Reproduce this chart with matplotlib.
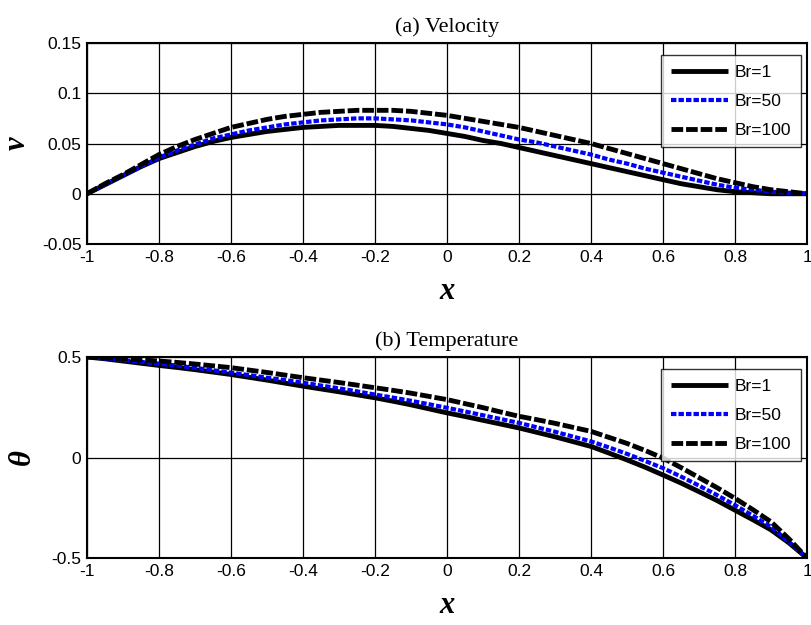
import matplotlib
matplotlib.use("Agg")
import matplotlib.pyplot as plt
from matplotlib.ticker import FixedLocator

x = [-1.0, -0.95, -0.9, -0.85, -0.8, -0.75, -0.7, -0.65, -0.6, -0.55, -0.5,
     -0.45, -0.4, -0.35, -0.3, -0.25, -0.2, -0.15, -0.1, -0.05, 0.0,
     0.05, 0.1, 0.15, 0.2, 0.25, 0.3, 0.35, 0.4, 0.45, 0.5,
     0.55, 0.6, 0.65, 0.7, 0.75, 0.8, 0.85, 0.9, 0.95, 1.0]

v_br1 = [0, 0.009, 0.018, 0.027, 0.035, 0.041, 0.047, 0.052, 0.056, 0.059, 0.062,
         0.064, 0.066, 0.067, 0.068, 0.068, 0.068, 0.067, 0.065, 0.063, 0.060,
         0.057, 0.053, 0.050, 0.046, 0.042, 0.038, 0.034, 0.030, 0.026, 0.022,
         0.018, 0.014, 0.010, 0.007, 0.004, 0.002, 0.001, 0.0, 0.0, 0.0]
v_br50 = [0, 0.009, 0.018, 0.027, 0.036, 0.043, 0.049, 0.055, 0.059, 0.063, 0.066,
          0.069, 0.071, 0.073, 0.074, 0.075, 0.075, 0.074, 0.073, 0.071, 0.069,
          0.066, 0.062, 0.058, 0.054, 0.051, 0.047, 0.043, 0.039, 0.034, 0.030,
          0.025, 0.021, 0.017, 0.013, 0.009, 0.006, 0.004, 0.002, 0.001, 0.0]
v_br100 = [0, 0.010, 0.019, 0.029, 0.039, 0.047, 0.054, 0.060, 0.066, 0.070, 0.074,
           0.077, 0.079, 0.081, 0.082, 0.083, 0.083, 0.083, 0.082, 0.080, 0.078,
           0.075, 0.072, 0.069, 0.066, 0.062, 0.058, 0.054, 0.050, 0.045, 0.040,
           0.035, 0.030, 0.025, 0.020, 0.015, 0.011, 0.007, 0.004, 0.002, 0.0]

t_br1 = [0.5, 0.491, 0.48, 0.469, 0.458, 0.448, 0.437, 0.425, 0.413, 0.399, 0.385,
         0.370, 0.355, 0.341, 0.327, 0.312, 0.297, 0.280, 0.262, 0.242, 0.222,
         0.204, 0.185, 0.166, 0.147, 0.125, 0.103, 0.079, 0.055, 0.022, -0.012,
         -0.048, -0.087, -0.127, -0.17, -0.214, -0.262, -0.31, -0.36, -0.425, -0.5]
t_br50 = [0.5, 0.493, 0.485, 0.476, 0.467, 0.457, 0.446, 0.434, 0.422, 0.410, 0.397,
          0.385, 0.372, 0.358, 0.344, 0.329, 0.313, 0.298, 0.282, 0.265, 0.247,
          0.229, 0.21, 0.191, 0.172, 0.150, 0.128, 0.104, 0.08, 0.05, 0.018,
          -0.017, -0.053, -0.095, -0.14, -0.187, -0.237, -0.29, -0.345, -0.42, -0.5]
t_br100 = [0.5, 0.497, 0.492, 0.486, 0.48, 0.473, 0.465, 0.456, 0.447, 0.435, 0.423,
           0.41, 0.397, 0.385, 0.373, 0.36, 0.347, 0.334, 0.32, 0.304, 0.288,
           0.268, 0.248, 0.226, 0.205, 0.188, 0.17, 0.15, 0.13, 0.1, 0.07,
           0.035, -0.003, -0.05, -0.1, -0.15, -0.203, -0.26, -0.32, -0.405, -0.5]

labels = ["Br=1", "Br=50", "Br=100"]
xticks = [-1, -0.8, -0.6, -0.4, -0.2, 0, 0.2, 0.4, 0.6, 0.8, 1]
xticklabels = ["-1", "-0.8", "-0.6", "-0.4", "-0.2", "0", "0.2", "0.4", "0.6", "0.8", "1"]
v_yticks = [-0.05, 0, 0.05, 0.1, 0.15]
v_yticklabels = ["-0.05", "0", "0.05", "0.1", "0.15"]
t_yticks = [-0.5, 0, 0.5]
t_yticklabels = ["-0.5", "0", "0.5"]

plt.rcParams['font.family'] = ['Liberation Sans', 'DejaVu Sans']

fig = plt.figure(figsize=(8.11, 6.25), dpi=100)
ax1 = fig.add_axes([87/811, 1-244/625, 720/811, 201/625])
ax2 = fig.add_axes([87/811, 1-558/625, 720/811, 201/625])

styles = [dict(color='black', lw=3.5, ls='-'),
          dict(color='#0000ff', lw=3.0, ls=(0, (1.3, 0.5))),
          dict(color='black', lw=3.5, ls=(0, (2.4, 0.6)))]

def setup(ax, series, yticks, yticklabels, ylim, title, ylabel, ylabx):
    for s, lab, st in zip(series, labels, styles):
        ax.plot(x, s, label=lab, dash_capstyle='butt', solid_capstyle='butt',
                solid_joinstyle='round', **st)
    ax.set_xlim(-1, 1)
    ax.set_ylim(*ylim)
    ax.xaxis.set_major_locator(FixedLocator(xticks))
    ax.set_xticklabels(xticklabels)
    ax.yaxis.set_major_locator(FixedLocator(yticks))
    ax.set_yticklabels(yticklabels)
    ax.grid(True, color='black', lw=0.9, ls='-')
    ax.set_axisbelow(True)
    ax.tick_params(direction='in', length=0, labelsize=12.5, pad=4)
    for sp in ax.spines.values():
        sp.set_linewidth(1.5)
    ax.set_title(title, family=['Liberation Serif'], fontsize=16, pad=8)
    ax.set_xlabel('x', family=['Liberation Serif'], style='italic', weight='bold',
                  fontsize=22, labelpad=9)
    ax.set_ylabel(ylabel, family=['Liberation Serif', 'DejaVu Serif'], style='italic',
                  weight='bold', fontsize=22)
    ax.yaxis.set_label_coords(ylabx, 0.5)
    leg = ax.legend(loc='upper right', bbox_to_anchor=(0.9915, 0.94),
                    fontsize=12.5, frameon=True, fancybox=False, edgecolor='black',
                    handlelength=3.3, handletextpad=0.4, borderpad=0.55, labelspacing=0.8,
                    borderaxespad=0.0)
    leg.get_frame().set_linewidth(1.0)

setup(ax1, [v_br1, v_br50, v_br100], v_yticks, v_yticklabels, (-0.05, 0.15),
      '(a) Velocity', 'v', -0.077)
setup(ax2, [t_br1, t_br50, t_br100], t_yticks, t_yticklabels, (-0.5, 0.5),
      '(b) Temperature', 'θ', -0.07)

fig.savefig('out.png', dpi=100)
